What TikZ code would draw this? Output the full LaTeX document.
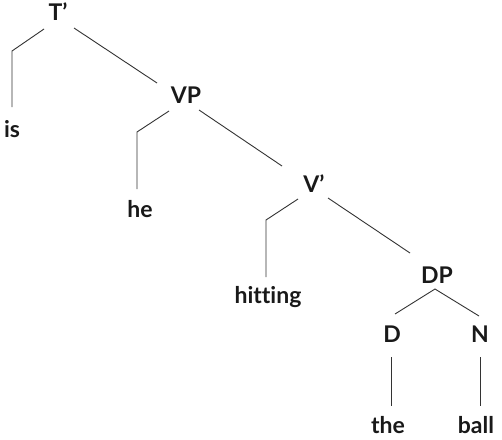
\documentclass[tikz,border=0pt]{standalone}
\usepackage{fontspec}
\setmainfont[Ligatures={NoCommon}]{Lato}
\begin{document}
\begin{tikzpicture}[x=1pt,y=-1pt,
  lab/.style={font=\fontsize{23}{27}\selectfont\bfseries, anchor=base, inner sep=0pt, text=black!90},
  br/.style={draw=black!80, line width=0.9pt}]
\useasboundingbox (0,0) rectangle (502,439);
% nodes
\node[lab] (Tp) at (58,20) {T’};
\node[lab] (is) at (12,137) {is};
\node[lab] (VP) at (186,103) {VP};
\node[lab] (he) at (140,217) {he};
\node[lab] (Vp) at (314,192) {V’};
\node[lab] (hit) at (268,303) {hitting};
\node[lab] (DP) at (437,283) {DP};
\node[lab] (D) at (392,342) {D};
\node[lab] (N) at (480,342) {N};
\node[lab] (the) at (388,433) {the};
\node[lab] (ball) at (476,433) {ball};
% branch points
\coordinate (TpL) at (44,29);  \coordinate (TpE) at (12,51);  \coordinate (isT) at (12,107);
\coordinate (TpR) at (74,28);  \coordinate (VPT) at (157,83);
\coordinate (VPL) at (169,111); \coordinate (VPE) at (137,132); \coordinate (heT) at (137,189);
\coordinate (VPR) at (199,110); \coordinate (VpT) at (282,166);
\coordinate (VpL) at (298,199); \coordinate (VpE) at (266,220); \coordinate (hitT) at (266,277);
\coordinate (VpR) at (328,198); \coordinate (DPT) at (410,253);
\coordinate (DPB) at (435,289); \coordinate (DT) at (395,314); \coordinate (NT) at (479,316);
\coordinate (DB) at (391,357); \coordinate (theT) at (391,406);
\coordinate (NB) at (480,357); \coordinate (ballT) at (480,406);
% branches
\draw[br] (TpL) -- (TpE) -- (isT);
\draw[br] (TpR) -- (VPT);
\draw[br] (VPL) -- (VPE) -- (heT);
\draw[br] (VPR) -- (VpT);
\draw[br] (VpL) -- (VpE) -- (hitT);
\draw[br] (VpR) -- (DPT);
\draw[br] (DT) -- (DPB) -- (NT);
\draw[br] (DB) -- (theT);
\draw[br] (NB) -- (ballT);
\end{tikzpicture}
\end{document}
